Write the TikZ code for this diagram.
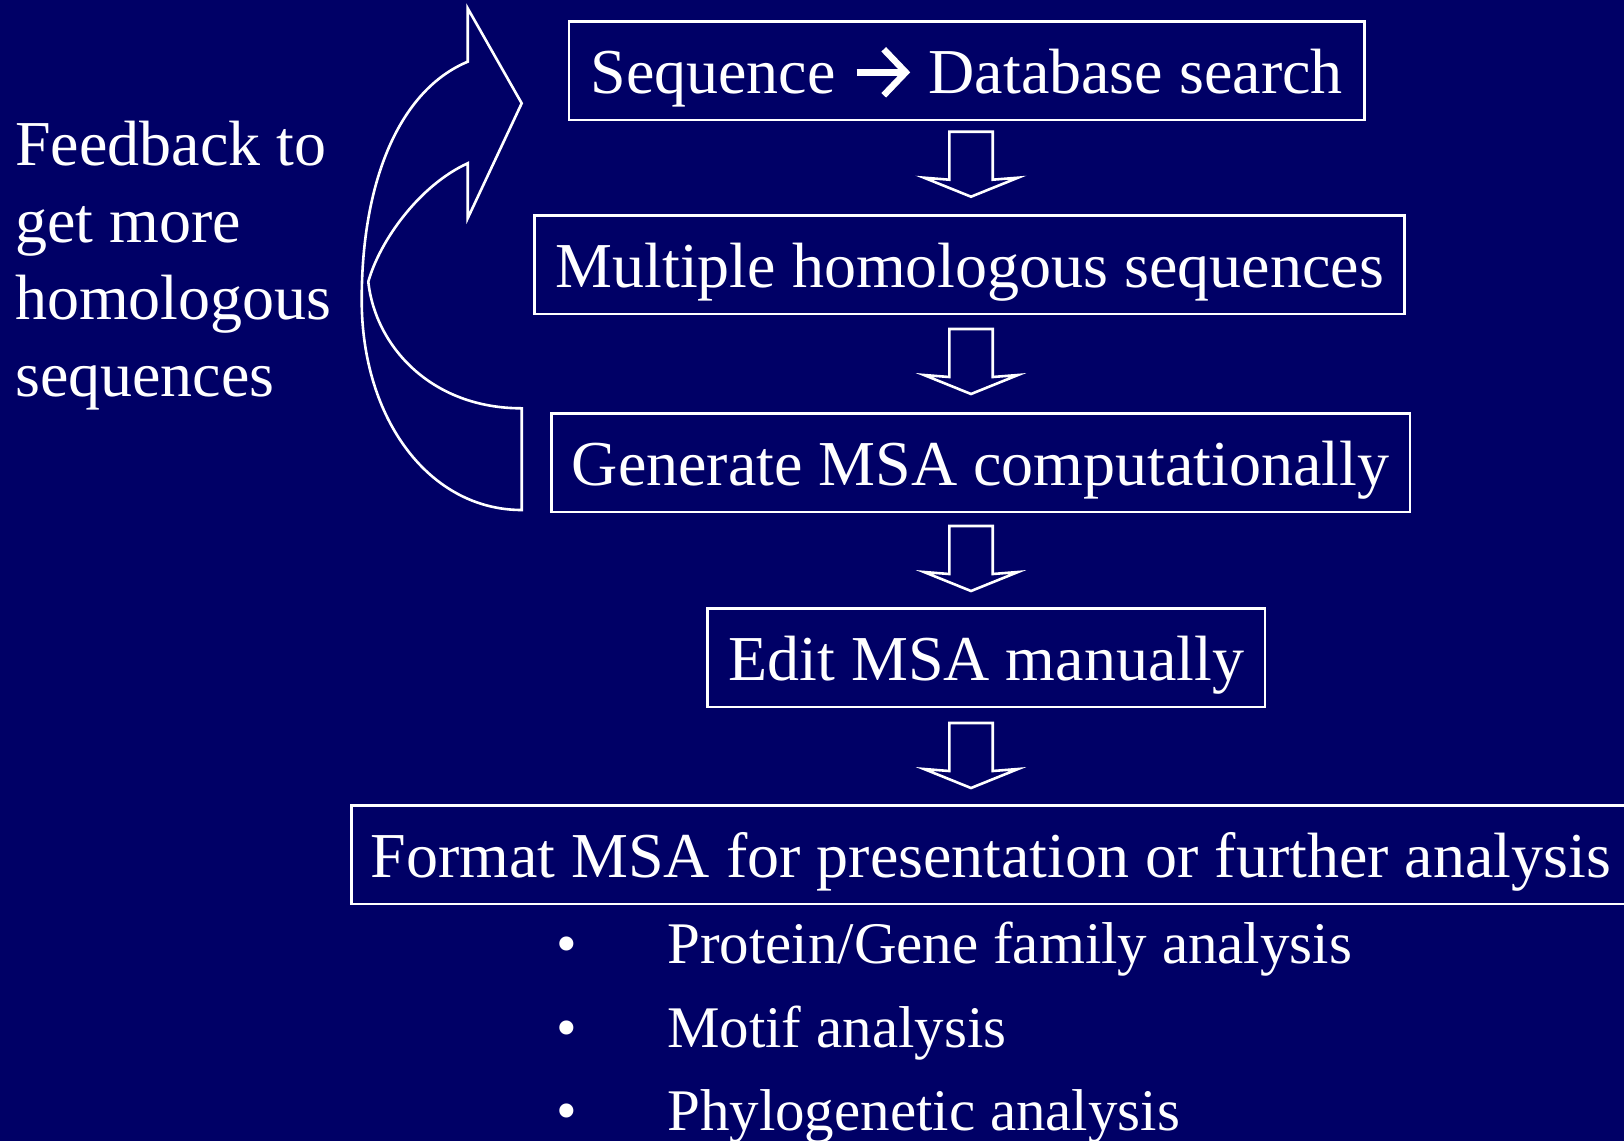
\documentclass[tikz,border=0pt]{standalone}
\usepackage{fontspec}
\setmainfont{Liberation Serif}
\definecolor{navybg}{RGB}{0,0,102}
\newcommand{\chevronarrow}{\tikz[baseline=0pt,x=1pt,y=1pt]{%
  \useasboundingbox (0,-2) rectangle (51,45);
  \draw[white, line width=6.5pt, line cap=butt] (0,21) -- (47,21);
  \draw[white, line width=6.5pt, line join=miter, line cap=butt] (27,44) -- (49,21) -- (27,-2);}}
\begin{document}
\begin{tikzpicture}[x=1pt,y=-1pt,
  lw/.style={draw=white, line width=2.6pt},
  flowbox/.style={lw, anchor=north west, inner sep=0pt, text=white,
    font=\fontsize{64}{77}\selectfont, text height=72pt, text depth=26.5pt, align=center},
  plain/.style={anchor=base west, inner sep=0pt, text=white, font=\fontsize{64}{77}\selectfont},
  listtext/.style={plain, font=\fontsize{59}{70}\selectfont},
  blockarrow/.pic={\draw[lw, line join=miter]
     (-21.7,0) -- (-21.7,48) -- (-47,46) -- (0,65) -- (47,46) -- (21.7,48) -- (21.7,0) -- cycle;}
]
\fill[navybg] (0,0) rectangle (1624,1141);
\useasboundingbox (0,0) rectangle (1624,1141);
\clip (0,0) rectangle (1624,1141);

% flow boxes
\node[flowbox, minimum width=795.4pt] (b1) at (567.6,20) {Sequence\hspace{21pt}\chevronarrow\hspace{21pt}Database search};
\node[flowbox, minimum width=870pt]   (b2) at (533.4,214.3) {Multiple homologous sequences};
\node[flowbox, minimum width=858.6pt] (b3) at (550,412.2) {Generate MSA computationally};
\node[flowbox, minimum width=557.3pt] (b4) at (706.3,607) {Edit MSA manually};
\node[flowbox, minimum width=1279pt]  (b5) at (350,804) {Format MSA for presentation or further analysis};

% block down arrows between boxes
\pic at (971,131.7) {blockarrow};
\pic at (971,329) {blockarrow};
\pic at (971,526) {blockarrow};
\pic at (971,723) {blockarrow};

% curved feedback arrow
\draw[lw, line join=miter]
  (521.7,510) .. controls (430,510) and (361.7,420) .. (361.7,300)
  .. controls (361.7,180) and (400,90) .. (467.7,61.7)
  -- (467.7,8.3) -- (521.7,103.3) -- (467.7,218.3) -- (467.7,163.3)
  .. controls (420,185) and (380,240) .. (368.3,281.7)
  .. controls (375,345) and (430,408.3) .. (521.7,408.3)
  -- cycle;

% feedback label
\node[plain] (f1) at (15,165) {Feedback to};
\node[plain] (f2) at (15,242) {get more};
\node[plain] (f3) at (15,319) {homologous};
\node[plain] (f4) at (15,396) {sequences};

% bullet list
\node[listtext] (d1) at (556,963) {•};
\node[listtext] (d2) at (556,1047) {•};
\node[listtext] (d3) at (556,1130) {•};
\node[listtext] (l1) at (667,963) {Protein/Gene family analysis};
\node[listtext] (l2) at (667,1047) {Motif analysis};
\node[listtext] (l3) at (667,1130) {Phylogenetic analysis};
\end{tikzpicture}
\end{document}
